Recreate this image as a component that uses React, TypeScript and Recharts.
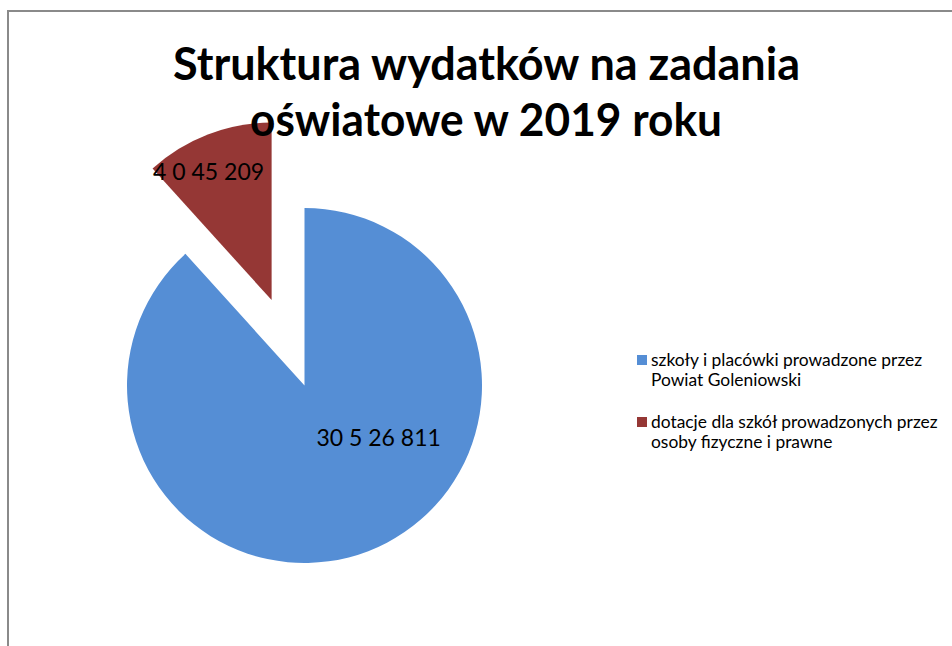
import React from "react";
import { PieChart, Pie, Cell, Legend } from "recharts";

const CATEGORIES = [
  "szkoły i placówki prowadzone przez Powiat Goleniowski",
  "dotacje dla szkół prowadzonych przez osoby fizyczne i prawne",
];
const VALUES = [30526811, 4045209];
const VALUE_LABELS = ["30 5 26 811", "4 0 45 209"];
const COLORS = ["#558ED5", "#953735"];
const EXPLODED = [false, true];

const TITLE = ["Struktura wydatków na zadania", "oświatowe w 2019 roku"];

const W = 952;
const H = 646;
const CX = 304.5;
const CY = 385.5;
const R = 177.5;
const EXPLODE = 91.5;
const FONT = "Lato, 'Open Sans', sans-serif";

// where each value label sits, relative to its slice's centre
const LABEL_PLACEMENT = [
  { angle: -35, dist: 0.51 },
  { angle: 116, dist: 0.81 },
];

const data = CATEGORIES.map((name, i) => ({
  name,
  value: VALUES[i],
  label: VALUE_LABELS[i],
}));

const total = VALUES.reduce((a, b) => a + b, 0);
const exIdx = EXPLODED.indexOf(true);
const before = VALUES.slice(0, exIdx).reduce((a, b) => a + b, 0);
const exStart = 90 - (360 * before) / total;
const exEnd = exStart - (360 * VALUES[exIdx]) / total;
const exMid = ((exStart + exEnd) / 2) * (Math.PI / 180);
const CX2 = CX + EXPLODE * Math.cos(exMid);
const CY2 = CY - EXPLODE * Math.sin(exMid);

const makeLabel = (exploded: boolean) => (props: any) => {
  const { cx, cy, outerRadius, index } = props;
  if (EXPLODED[index] !== exploded) return null;
  const p = LABEL_PLACEMENT[index];
  const a = (p.angle * Math.PI) / 180;
  const x = cx + outerRadius * p.dist * Math.cos(a);
  const y = cy - outerRadius * p.dist * Math.sin(a);
  return (
    <text
      x={x}
      y={y}
      textAnchor="middle"
      dominantBaseline="central"
      fontFamily={FONT}
      fontSize={23}
      fill="#000"
    >
      {data[index].label}
    </text>
  );
};

const LegendBox = () => (
  <div style={{ fontFamily: FONT, fontSize: 17.4, lineHeight: "20px", color: "#000", width: 312 }}>
    {CATEGORIES.map((c, i) => (
      <div key={c} style={{ position: "relative", paddingLeft: 14, marginBottom: 22 }}>
        <span
          style={{
            position: "absolute",
            left: 0,
            top: 5.5,
            width: 10,
            height: 10,
            background: COLORS[i],
          }}
        />
        {c}
      </div>
    ))}
  </div>
);

export default function App() {
  return (
    <div style={{ position: "fixed", left: 0, top: 0, width: W, height: H, overflow: "hidden", background: "#fff" }}>
      <div
        style={{
          position: "absolute",
          left: 7,
          top: 10,
          width: 2000,
          height: 2000,
          borderTop: "2px solid #8a8a8a",
          borderLeft: "2px solid #8a8a8a",
        }}
      />
      <div style={{ position: "absolute", left: 0, top: 0 }}>
        <PieChart width={W} height={H} margin={{ top: 0, right: 0, bottom: 0, left: 0 }}>
          <Pie
            data={data}
            dataKey="value"
            nameKey="name"
            cx={CX}
            cy={CY}
            outerRadius={R}
            startAngle={90}
            endAngle={-270}
            isAnimationActive={false}
            labelLine={false}
            label={makeLabel(false)}
          >
            {data.map((_, i) => (
              <Cell key={i} fill={EXPLODED[i] ? "none" : COLORS[i]} stroke="none" />
            ))}
          </Pie>
          <Pie
            data={data}
            dataKey="value"
            nameKey="name"
            cx={CX2}
            cy={CY2}
            outerRadius={R}
            startAngle={90}
            endAngle={-270}
            isAnimationActive={false}
            labelLine={false}
            legendType="none"
            label={makeLabel(true)}
          >
            {data.map((_, i) => (
              <Cell key={i} fill={EXPLODED[i] ? COLORS[i] : "none"} stroke="none" />
            ))}
          </Pie>
          <Legend
            layout="vertical"
            align="center"
            verticalAlign="middle"
            content={<LegendBox />}
            wrapperStyle={{ left: 637, top: 349.5, width: 315 }}
          />
        </PieChart>
      </div>
      <svg width={W} height={H} style={{ position: "absolute", left: 0, top: 0, pointerEvents: "none" }}>
        <text
          x={486.5}
          y={80}
          textAnchor="middle"
          fontFamily={FONT}
          fontWeight="bold"
          fontSize={45}
          textLength={627}
          lengthAdjust="spacingAndGlyphs"
        >
          {TITLE[0]}
        </text>
        <text
          x={486}
          y={136}
          textAnchor="middle"
          fontFamily={FONT}
          fontWeight="bold"
          fontSize={45}
          textLength={472}
          lengthAdjust="spacingAndGlyphs"
        >
          {TITLE[1]}
        </text>
      </svg>
    </div>
  );
}
